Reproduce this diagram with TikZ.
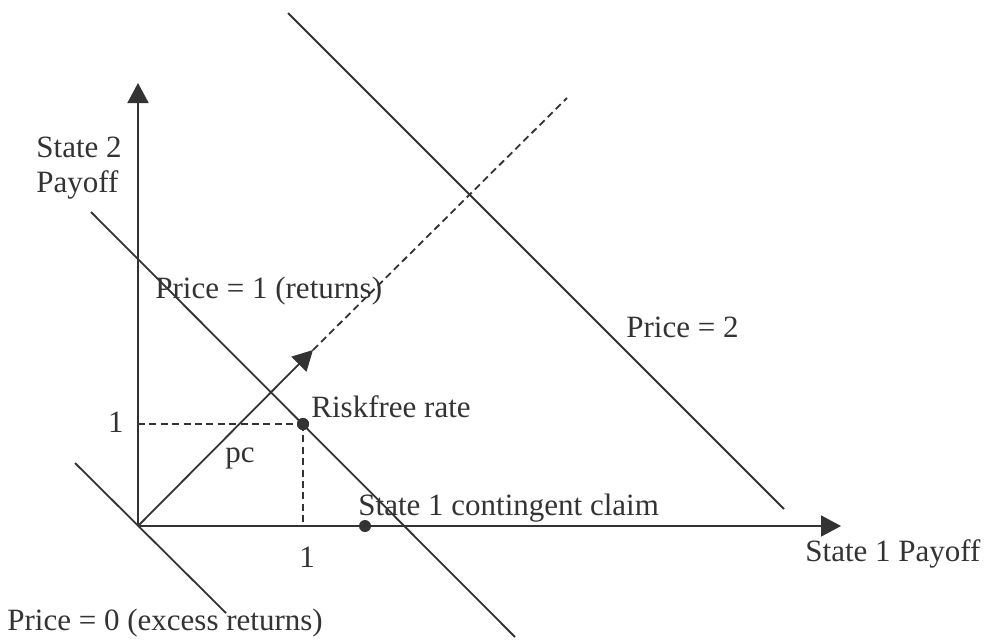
\documentclass[tikz,border=0pt]{standalone}
\usepackage{fontspec}
\setmainfont{Liberation Serif}
\usetikzlibrary{arrows.meta}
\definecolor{ink}{gray}{0.2}
\begin{document}
\begin{tikzpicture}[x=0.5pt,y=-0.5pt,
  line/.style={draw=ink,line width=0.9pt},
  dashline/.style={draw=ink,line width=0.9pt,dash pattern=on 3.5pt off 2.2pt},
  axisarrow/.style={line,-{Triangle[length=10pt,width=10.5pt]}},
  dot/.style={circle,fill=ink,inner sep=0pt,minimum size=6pt},
  lbl/.style={text=ink,inner sep=0pt,font=\fontsize{15.5}{18}\selectfont}]
\useasboundingbox (0,0) rectangle (989,639);
% key points
\coordinate (O) at (138,526);
\coordinate (Ytop) at (138,83);
\coordinate (Xend) at (841,526);
\node[dot] (rf) at (303,424) {};
\node[dot] (cc) at (365,526) {};
\coordinate (Yone) at (138,424);
\coordinate (Xone) at (303,526);
\coordinate (pcTip) at (313,350);
\coordinate (pcEnd) at (567,98);
\coordinate (p1a) at (91,212);
\coordinate (p1b) at (515,637);
\coordinate (p2a) at (288,13);
\coordinate (p2b) at (784,509);
\coordinate (p0a) at (75,463);
\coordinate (p0b) at (226,613);
% axes
\draw[axisarrow] (O) -- (Ytop);
\draw[axisarrow] (O) -- (Xend);
% price lines
\draw[line] (p1a) -- (p1b);
\draw[line] (p2a) -- (p2b);
\draw[line] (p0a) -- (p0b);
% pc ray
\draw[axisarrow] (O) -- (pcTip);
\draw[dashline] (pcTip) -- (pcEnd);
% riskfree guides
\draw[dashline] (Yone) -- (rf.center);
\draw[dashline] (rf.center) -- (Xone);
\node[dot] at (rf) {};
% labels
\node[lbl,anchor=base west] (s2a) at (36,157) {State 2};
\node[lbl,anchor=base west] (s2b) at (36,192) {Payoff};
\node[lbl,anchor=base east] (y1) at (124,432) {1};
\node[lbl,anchor=base] (x1) at (307,567) {1};
\node[lbl,anchor=base west] (pc) at (225,462) {pc};
\node[lbl,anchor=base west] (rfl) at (311,417) {Riskfree rate};
\node[lbl,anchor=base west] (p1l) at (155,298) {Price = 1 (returns)};
\node[lbl,anchor=base west] (p2l) at (626,337) {Price = 2};
\node[lbl,anchor=base west] (ccl) at (358,515) {State 1 contingent claim};
\node[lbl,anchor=base west] (s1l) at (805,561) {State 1 Payoff};
\node[lbl,anchor=base west] (p0l) at (7,630) {Price = 0 (excess returns)};
\end{tikzpicture}
\end{document}
